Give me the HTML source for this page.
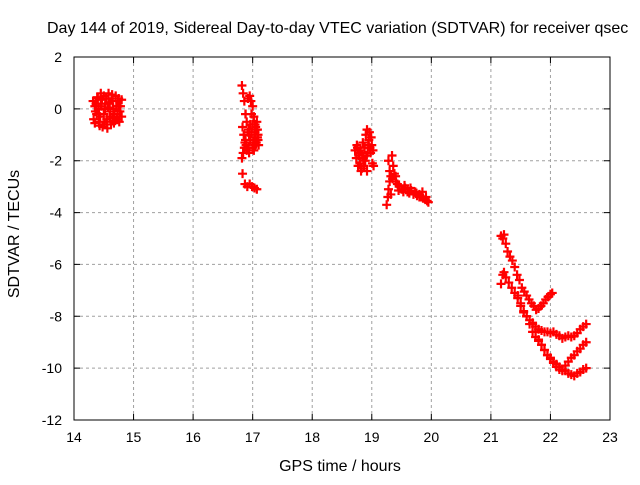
<!DOCTYPE html>
<html><head><meta charset="utf-8"><style>
body{margin:0;background:#fff;font-family:"Liberation Sans",sans-serif}
svg text{font-family:"Liberation Sans",sans-serif;font-size:14px;fill:#000}
</style></head><body>
<svg id="chart" width="640" height="480" viewBox="0 0 640 480">
<rect x="0" y="0" width="640" height="480" fill="#fff"/>
<g id="grid"></g>
<g id="marks"></g>
<rect x="74" y="57" width="536" height="363" fill="none" stroke="#000" stroke-width="1"/>
<g id="ticks"></g>
<text x="47" y="33" style="font-size:16px">Day 144 of 2019, Sidereal Day-to-day VTEC variation (SDTVAR) for receiver qsec</text>
<text x="340" y="471" text-anchor="middle" style="font-size:16px">GPS time / hours</text>
<text transform="translate(19,234) rotate(-90)" text-anchor="middle" style="font-size:16px">SDTVAR / TECUs</text>
</svg>
<script>
const xTicks=[14,15,16,17,18,19,20,21,22,23];
const yTicks=[2,0,-2,-4,-6,-8,-10,-12];
const hoursA=[14.32,14.35,14.38,14.4,14.42,14.45,14.48,14.5,14.52,14.55,14.58,14.6,14.62,14.65,14.68,14.7,14.72,14.75,14.78,14.8,14.33,14.37,14.41,14.44,14.47,14.51,14.54,14.57,14.61,14.64,14.67,14.71,14.74,14.77,14.36,14.43,14.5,14.56,14.63,14.69,14.76,14.39,14.46,14.53,14.6,14.66,14.73,14.8,14.35,14.45,14.55,14.65,14.75,14.42,14.58];
const valsA=[0.3,0.1,-0.2,0.4,-0.5,0.2,-0.7,0.5,0.0,-0.4,0.6,0.2,-0.6,0.3,-0.2,0.5,-0.4,0.4,0.1,-0.3,-0.4,0.2,0.0,-0.3,0.35,-0.6,0.4,0.05,-0.1,0.55,-0.55,0.1,0.3,-0.1,-0.1,-0.65,-0.2,-0.75,0.4,-0.45,-0.5,0.45,0.1,0.2,-0.3,0.0,-0.2,0.35,-0.55,0.6,-0.5,-0.35,0.1,-0.2,0.25];
const hoursB=[16.82,16.84,16.86,16.88,16.9,16.92,16.95,16.97,17.0,17.02,17.04,17.06,17.08,17.1,16.83,16.85,16.87,16.9,16.93,16.96,16.98,17.01,17.03,17.05,17.07,17.09,16.84,16.88,16.92,16.96,17.0,17.04,17.08,16.86,16.94,17.02,16.83,16.87,16.91,16.95,16.99,17.03,17.07,16.82,16.88,16.93,16.98,17.04,17.09,16.89,16.94,17.0,17.06];
const valsB=[0.9,0.6,0.3,-0.2,-0.5,0.4,0.5,0.3,0.1,-0.3,-0.6,-0.8,-1.1,-1.4,-0.7,-1.0,-1.3,-1.6,-1.5,-1.2,-0.9,-1.3,-1.1,-0.7,-0.5,-1.2,-1.7,-1.2,-0.9,-0.6,-1.5,-0.9,-0.8,-1.5,-1.0,-1.6,-2.5,-2.9,-3.0,-2.9,-3.0,-3.05,-3.1,-1.9,-0.2,-0.8,-0.2,-1.4,-1.0,-1.4,-1.7,-0.6,-1.3];
const hoursC=[18.72,18.75,18.78,18.8,18.83,18.86,18.88,18.9,18.92,18.95,18.97,19.0,19.02,18.74,18.77,18.81,18.85,18.89,18.93,18.96,18.99,19.01,18.76,18.82,18.87,18.91,18.94,18.98,19.03,18.79,18.84,18.92];
const valsC=[-1.6,-1.4,-1.8,-2.1,-2.3,-1.9,-1.5,-1.0,-0.8,-1.2,-1.5,-1.4,-1.6,-1.9,-2.2,-1.6,-1.3,-2.0,-1.7,-0.9,-1.1,-2.1,-1.5,-2.4,-2.2,-1.8,-1.4,-1.7,-2.2,-1.7,-1.8,-2.4];
const hoursD=[19.25,19.27,19.28,19.3,19.32,19.34,19.36,19.38,19.4,19.43,19.46,19.5,19.53,19.56,19.6,19.63,19.66,19.7,19.73,19.76,19.8,19.83,19.86,19.9,19.93,19.95,19.28,19.3,19.32,19.35,19.45,19.55,19.65,19.75,19.85,19.91,19.4,19.6,19.8];
const valsD=[-3.7,-3.4,-3.1,-2.8,-2.6,-1.8,-2.2,-2.5,-2.8,-2.9,-3.0,-3.1,-3.2,-3.05,-3.2,-3.25,-3.15,-3.3,-3.2,-3.35,-3.3,-3.4,-3.45,-3.5,-3.55,-3.6,-2.0,-2.4,-3.3,-2.7,-3.15,-2.95,-3.05,-3.25,-3.2,-3.4,-2.6,-3.1,-3.4];
const hoursT1=[21.17,21.2,21.22,21.25,21.28,21.32,21.36,21.4,21.44,21.48,21.52,21.56,21.6,21.64,21.68,21.72,21.76,21.8,21.84,21.88,21.92,21.96,22.0,22.03];
const valsT1=[-4.9,-5.0,-4.85,-5.2,-5.5,-5.7,-5.85,-6.1,-6.4,-6.6,-6.9,-7.05,-7.2,-7.35,-7.5,-7.6,-7.75,-7.7,-7.6,-7.5,-7.35,-7.25,-7.15,-7.1];
const hoursT2=[21.17,21.2,21.22,21.25,21.3,21.35,21.4,21.45,21.5,21.55,21.6,21.65,21.7,21.75,21.8,21.85,21.9,21.95,22.0,22.05,22.1,22.15,22.2,22.25,22.3,22.35,22.4,22.45,22.5,22.55,22.6];
const valsT2=[-6.75,-6.4,-6.3,-6.5,-6.7,-6.9,-7.1,-7.3,-7.6,-7.85,-8.0,-8.15,-8.25,-8.4,-8.5,-8.55,-8.6,-8.6,-8.65,-8.6,-8.7,-8.75,-8.85,-8.8,-8.75,-8.8,-8.75,-8.65,-8.5,-8.4,-8.3];
const hoursT3=[21.45,21.5,21.55,21.6,21.65,21.7,21.75,21.8,21.85,21.9,21.95,22.0,22.05,22.1,22.15,22.2,22.25,22.3,22.35,22.4,22.45,22.5,22.55,22.6];
const valsT3=[-7.2,-7.5,-7.8,-8.0,-8.3,-8.6,-8.8,-8.95,-9.1,-9.3,-9.5,-9.65,-9.8,-9.95,-10.05,-10.1,-9.9,-9.75,-9.6,-9.5,-9.35,-9.25,-9.1,-9.0];
const hoursT4=[21.7,21.75,21.8,21.85,21.9,21.95,22.0,22.05,22.1,22.15,22.2,22.25,22.3,22.35,22.4,22.45,22.5,22.55,22.6];
const valsT4=[-8.3,-8.6,-8.9,-9.1,-9.3,-9.5,-9.6,-9.75,-9.85,-9.95,-10.05,-10.1,-10.2,-10.25,-10.3,-10.2,-10.15,-10.05,-10.0];

const X0=74,X1=610,Y0=420,Y1=57,XMIN=14,XMAX=23,YMIN=-12,YMAX=2;
function xs(h){return X0+(h-XMIN)/(XMAX-XMIN)*(X1-X0);}
function ys(v){return Y0-(v-YMIN)/(YMAX-YMIN)*(Y0-Y1);}
const NS="http://www.w3.org/2000/svg";
const grid=document.getElementById('grid'),ticks=document.getElementById('ticks'),marks=document.getElementById('marks');
function mk(tag,attrs,parent){const e=document.createElementNS(NS,tag);for(const k in attrs)e.setAttribute(k,attrs[k]);parent.appendChild(e);return e;}
xTicks.forEach(t=>{
  const x=xs(t);
  if(t>XMIN&&t<XMAX){const g=mk('line',{x1:x,x2:x,y1:Y1,y2:Y0,stroke:'#a0a0a0','stroke-dasharray':'3,3'},grid);
  
  }
  const tk=mk('path',{d:`M${x},${Y0}v-6M${x},${Y1}v6`,stroke:'#000'},ticks);
  
  
  const lb=mk('text',{x:x,y:Y0+22,'text-anchor':'middle'},ticks);lb.textContent=t;
  
  
});
yTicks.forEach(t=>{
  const y=ys(t);
  if(t>YMIN&&t<YMAX){const g=mk('line',{x1:X0,x2:X1,y1:y,y2:y,stroke:'#a0a0a0','stroke-dasharray':'3,3'},grid);
  
  }
  const tk=mk('path',{d:`M${X0},${y}h6M${X1},${y}h-6`,stroke:'#000'},ticks);
  
  
  const lb=mk('text',{x:X0-12,y:y+5,'text-anchor':'end'},ticks);lb.textContent=t;
  
  
});
const series=[[hoursA,valsA],[hoursB,valsB],[hoursC,valsC],[hoursD,valsD],[hoursT1,valsT1],[hoursT2,valsT2],[hoursT3,valsT3],[hoursT4,valsT4]];
series.forEach(([hs,vs])=>{
  hs.forEach((h,i)=>{
    const x=xs(h),y=ys(vs[i]);
    const p=mk('path',{d:`M${x-4.5},${y}h9M${x},${y-4.5}v9`,stroke:'#ff0000','stroke-width':'2.2',fill:'none'},marks);
    
    
  });
});
</script>
</body></html>
